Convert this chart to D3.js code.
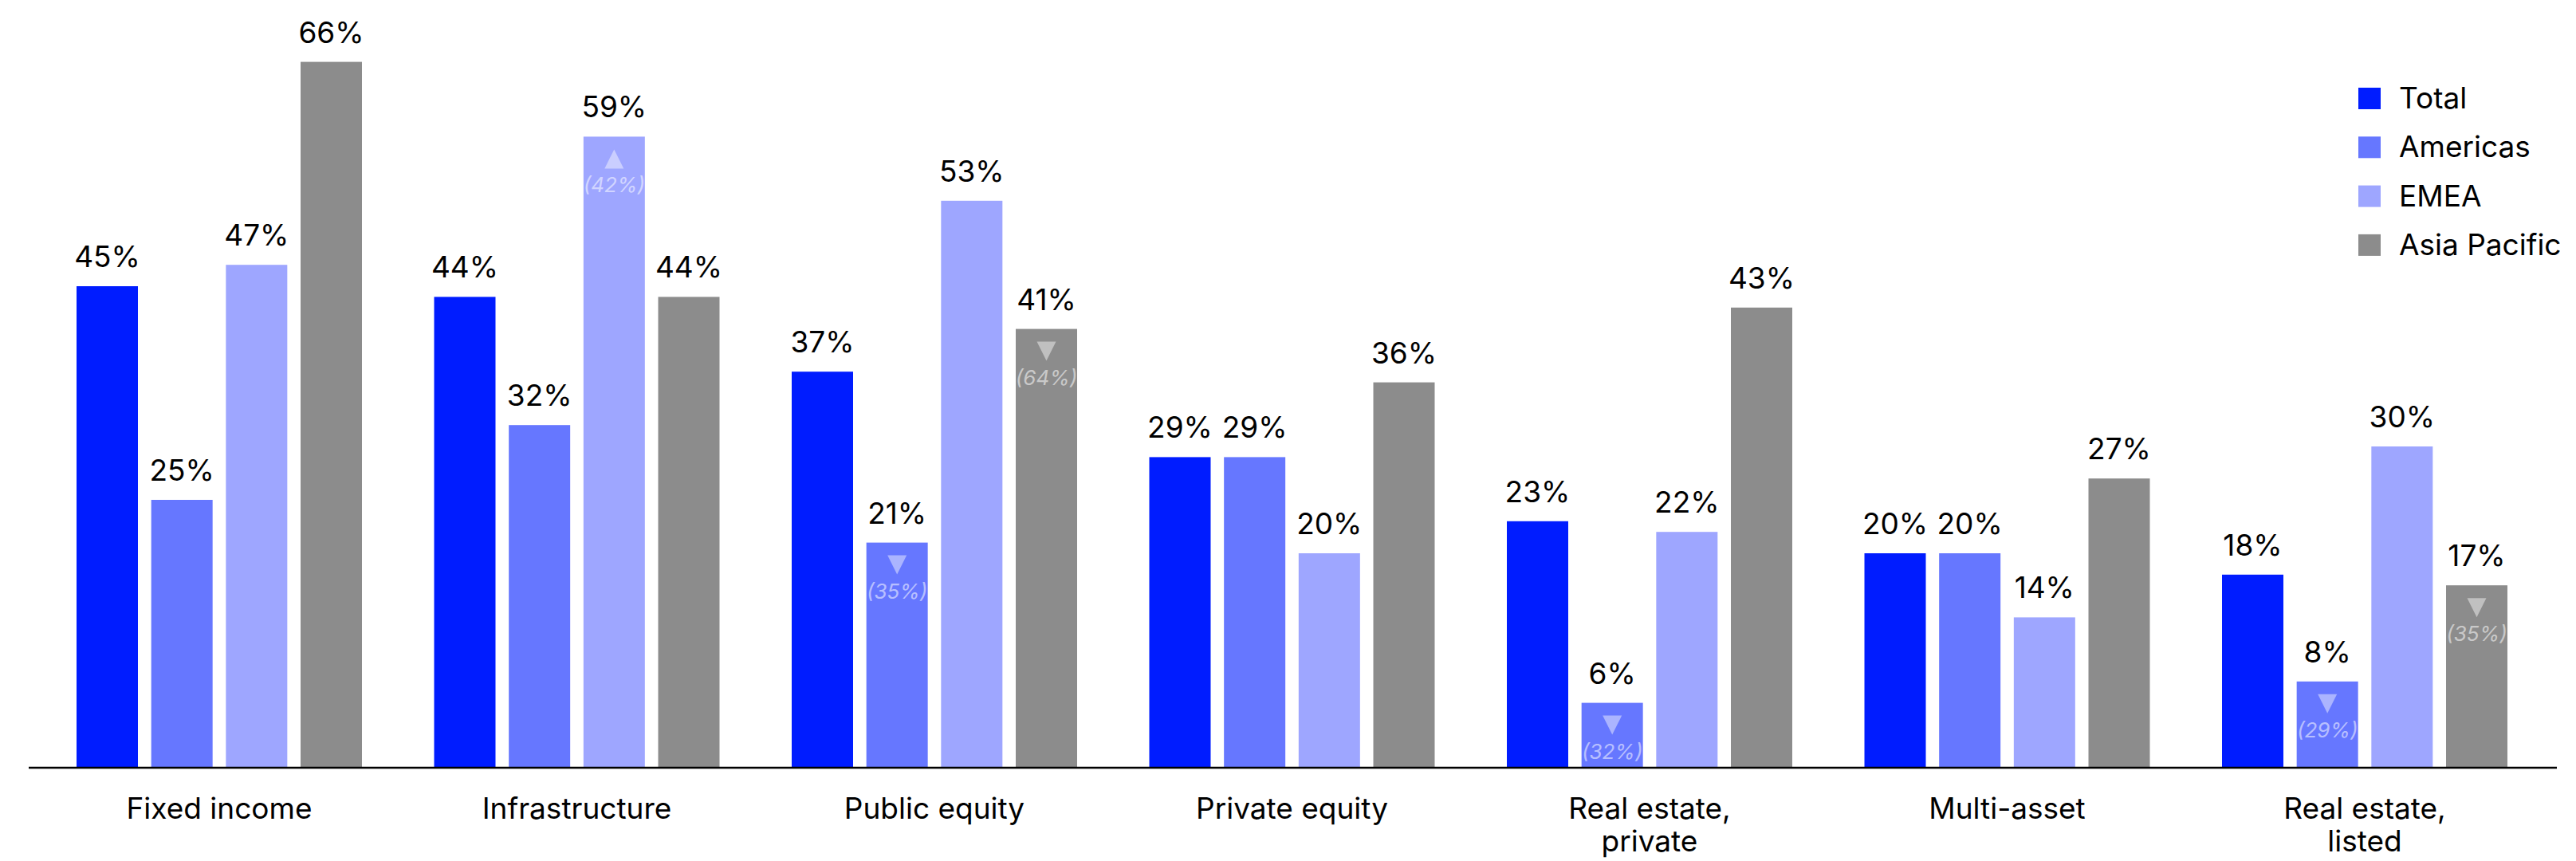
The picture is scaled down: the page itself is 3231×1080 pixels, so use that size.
<!DOCTYPE html>
<html>
<head>
<meta charset="utf-8">
<script src="https://cdn.jsdelivr.net/npm/d3@7"></script>
<style>
  html, body { margin: 0; padding: 0; background: #ffffff; }
  svg { display: block; }
  text { font-family: Inter, "Open Sans", sans-serif; }
</style>
</head>
<body>
<svg id="chart"></svg>
<script>
// ---- data ----
const categories = ["Fixed income", "Infrastructure", "Public equity", "Private equity", "Real estate, private", "Multi-asset", "Real estate, listed"];
const seriesNames = ["Total", "Americas", "EMEA", "Asia Pacific"];
const total       = [45, 44, 37, 29, 23, 20, 18];
const americas    = [25, 32, 21, 29, 6, 20, 8];
const emea        = [47, 59, 53, 20, 22, 14, 30];
const asiaPacific = [66, 44, 41, 36, 43, 27, 17];
// year-on-year change annotations shown inside some bars
const changeCategory = ["Infrastructure", "Public equity", "Public equity", "Real estate, private", "Real estate, listed", "Real estate, listed"];
const changeSeries   = ["EMEA", "Americas", "Asia Pacific", "Americas", "Americas", "Asia Pacific"];
const changeValue    = [42, -35, -64, -32, -29, -35];

const colors = ["#001cff", "#6677ff", "#9ea6ff", "#8c8c8c"];
const seriesValues = [total, americas, emea, asiaPacific];

// ---- layout ----
const W = 3231, H = 1080;
const baseY = 962;
const svg = d3.select("#chart").attr("width", W).attr("height", H);

const x0 = d3.scaleBand().domain(categories).range([50.75, 3190.25]).paddingInner(0.2018).paddingOuter(0.1009);
const x1 = d3.scaleBand().domain(seriesNames).range([0, x0.bandwidth()]).paddingInner(0.178);
const y = d3.scaleLinear().domain([0, 66]).range([baseY, 77.6]);
const color = d3.scaleOrdinal().domain(seriesNames).range(colors);

const rows = [];
categories.forEach((c, ci) => {
  seriesNames.forEach((s, si) => {
    rows.push({ category: c, series: s, value: seriesValues[si][ci] });
  });
});

const g = svg.append("g");

// bars
g.selectAll("rect.bar").data(rows).join("rect")
  .attr("class", "bar")
  .attr("x", d => x0(d.category) + x1(d.series))
  .attr("y", d => y(d.value))
  .attr("width", x1.bandwidth())
  .attr("height", d => y(0) - y(d.value))
  .attr("fill", d => color(d.series));

// value labels
g.selectAll("text.val").data(rows).join("text")
  .attr("class", "val")
  .attr("x", d => x0(d.category) + x1(d.series) + x1.bandwidth() / 2)
  .attr("y", d => y(d.value) - 24)
  .attr("text-anchor", "middle")
  .attr("font-size", 37)
  .attr("fill", "#000")
  .text(d => d.value + "%");

// change annotations
const changes = changeCategory.map((c, i) => {
  const si = seriesNames.indexOf(changeSeries[i]);
  const ci = categories.indexOf(c);
  return { category: c, series: changeSeries[i], change: changeValue[i], value: seriesValues[si][ci] };
});
const ann = g.selectAll("g.ann").data(changes).join("g")
  .attr("class", "ann")
  .attr("transform", d => `translate(${x0(d.category) + x1(d.series) + x1.bandwidth() / 2},${y(d.value)})`);
ann.append("path")
  .attr("d", d => d.change > 0 ? "M-12,40L12,40L0,16Z" : "M-12,16L12,16L0,40Z")
  .attr("fill", "#ffffff").attr("fill-opacity", 0.45);
ann.append("text")
  .attr("y", 70)
  .attr("text-anchor", "middle")
  .attr("font-size", 26)
  .attr("font-style", "italic")
  .attr("fill", "#ffffff").attr("fill-opacity", 0.55)
  .text(d => "(" + Math.abs(d.change) + "%)");

// x axis
const xAxis = d3.axisBottom(x0).tickSize(0).tickPadding(0);
const axG = svg.append("g").attr("transform", `translate(0,${baseY})`).call(xAxis);
axG.select(".domain").remove();
axG.selectAll(".tick text").each(function(d) {
  const t = d3.select(this);
  const lines = d.split(/(?<=,)\s+/);
  t.text(null).attr("dy", null).attr("y", null)
    .attr("font-size", 37).attr("fill", "#000")
    .attr("font-family", "Inter, 'Open Sans', sans-serif");
  lines.forEach((ln, i) => {
    t.append("tspan").attr("x", 0).attr("y", 65 + i * 41).text(ln);
  });
});
svg.append("line")
  .attr("x1", 36).attr("x2", 3207)
  .attr("y1", baseY + 1).attr("y2", baseY + 1)
  .attr("stroke", "#000").attr("stroke-width", 2.5);

// legend
const leg = svg.append("g").attr("transform", "translate(2958,136)");
const li = leg.selectAll("g").data(seriesNames).join("g")
  .attr("transform", (d, i) => `translate(0,${i * 61.3})`);
li.append("rect").attr("x", 0).attr("y", -26).attr("width", 28).attr("height", 27).attr("fill", d => color(d));
li.append("text").attr("x", 51).attr("y", 0).attr("font-size", 37).attr("fill", "#000").text(d => d);
</script>
</body>
</html>
